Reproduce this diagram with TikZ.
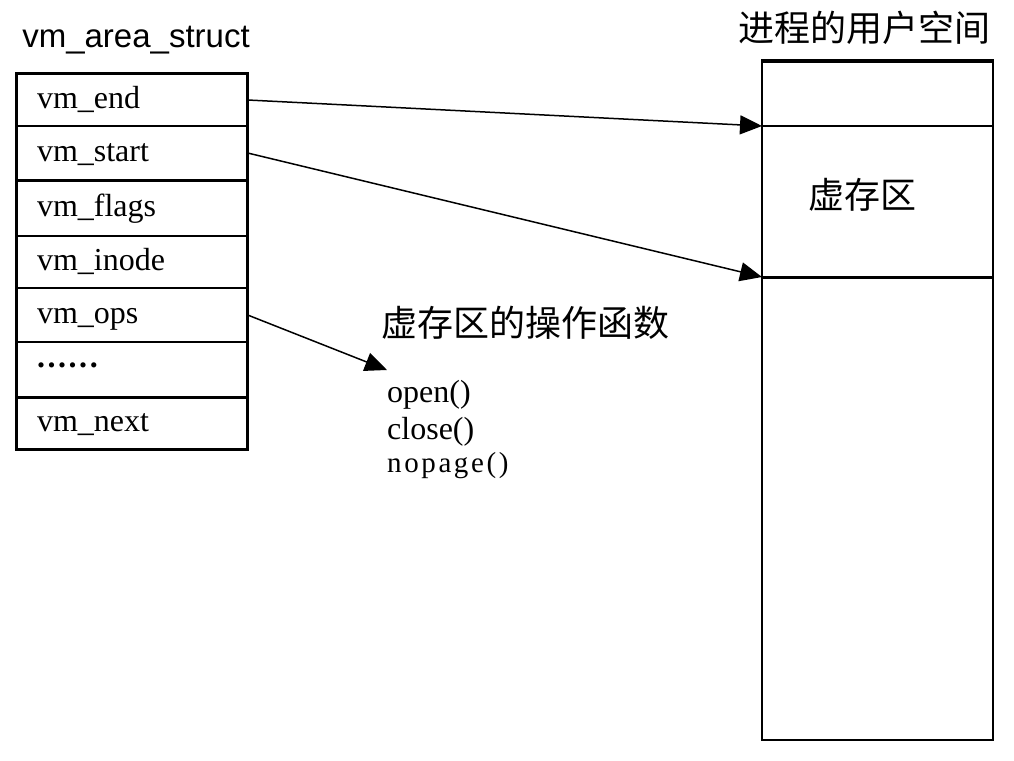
\documentclass[tikz,border=0pt]{standalone}
\usepackage{fontspec}
\setmainfont{Liberation Serif}
\setsansfont{Liberation Sans}
\newfontfamily\cjk{Noto Sans CJK SC}
\usepackage{tikz}
\usetikzlibrary{arrows.meta, positioning}

\tikzset{
	field/.style={draw, line width=1.3pt, minimum width=230pt, text width=190pt,
		inner xsep=20pt, inner ysep=0pt, align=left, text height=20pt, text depth=4pt,
		font=\fontsize{32}{36}\selectfont},
	heavy/.style={line width=3pt},
	pointer/.style={line width=1.5pt, -{Triangle[length=22pt,width=19pt]}},
	cjklabel/.style={font=\cjk\fontsize{36}{40}\selectfont, inner sep=0pt}
}

\begin{document}
\begin{tikzpicture}[x=1pt, y=-1pt]
				\useasboundingbox (0,0) rectangle (1014,760);

				% vm_area_struct
				\node (Title) [font=\sffamily\fontsize{33}{38}\selectfont, inner sep=0pt] at (136, 40) {vm\_area\_struct};
				\node (End) [field, minimum height=52pt] at (132, 100) {vm\_end};
				\node (Start) [field, minimum height=54pt] at (132, 153) {vm\_start};
				\node (Flags) [field, minimum height=56pt] at (132, 208) {vm\_flags};
				\node (Inode) [field, minimum height=52pt] at (132, 262) {vm\_inode};
				\node (Ops) [field, minimum height=54pt] at (132, 315) {vm\_ops};
				\node (Dots) [field, minimum height=55pt] at (132, 369.5) {\raisebox{10pt}{\addfontfeature{LetterSpace=8}\textbf{......}}};
				\node (Next) [field, minimum height=52pt] at (132, 423) {vm\_next};
				\draw [heavy] (End.north west) rectangle (Next.south east);
				\draw [heavy] (Start.south west) -- (Start.south east);
				\draw [heavy] (Dots.south west) -- (Dots.south east);

				% user space
				\node (SpaceTitle) [cjklabel] at (864, 28) {进程的用户空间};
				\node (Space) [draw, line width=2pt, minimum width=231pt, minimum height=678pt, inner sep=0pt] at (877.5, 401) {};
				\draw [heavy] (Space.north west) -- (Space.north east);
				\coordinate (AreaTop) at (762, 126);
				\coordinate (AreaBot) at (762, 277);
				\draw [line width=1.3pt] (AreaTop) -- (AreaTop -| Space.east);
				\draw [heavy] (AreaBot) -- (AreaBot -| Space.east);
				\node (Area) [cjklabel] at (862, 195) {虚存区};

				% operations
				\node (OpsTitle) [cjklabel, anchor=west] at (381, 323) {虚存区的操作函数};
				\coordinate (OpsIn) at (387, 370);
				\node (Open) [anchor=base west, inner sep=0pt, font=\fontsize{32}{36}\selectfont] at (387, 402) {open()};
				\node (Close) [anchor=base west, inner sep=0pt, font=\fontsize{32}{36}\selectfont] at (387, 439) {close()};
				\node (Nopage) [anchor=base west, inner sep=0pt, font=\fontsize{29}{34}\selectfont\addfontfeature{LetterSpace=9}] at (387, 472) {nopage()};

				\draw [pointer] (End.east) -- (AreaTop);
				\draw [pointer] (Start.east) -- (AreaBot);
				\draw [pointer] (Ops.east) -- (OpsIn);
			\end{tikzpicture}
\end{document}
